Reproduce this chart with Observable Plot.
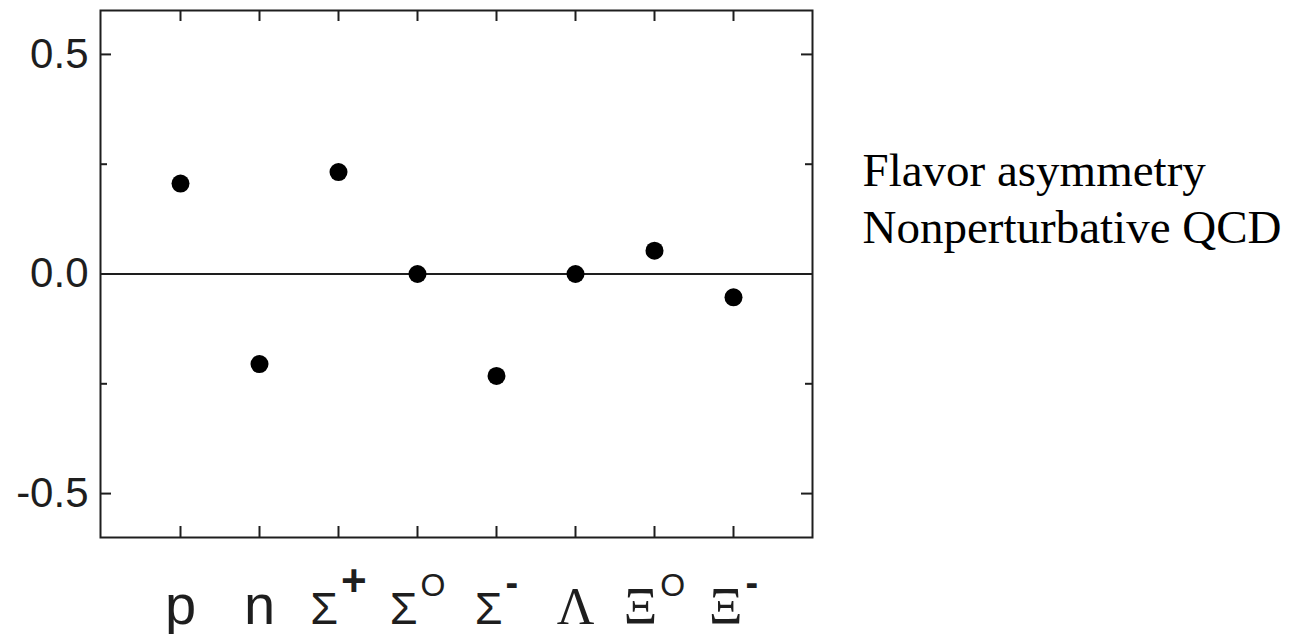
<!DOCTYPE html>
<html><head><meta charset="utf-8">
<script src="https://cdn.jsdelivr.net/npm/d3@7"></script>
<script src="https://cdn.jsdelivr.net/npm/@observablehq/plot@0.6"></script>
<style>body{margin:0;background:#fff}</style>
</head><body><div id="chart"></div>
<script>
// ---- data ----
const particles = ["p","n","Σ+","Σ0","Σ-","Λ","Ξ0","Ξ-"];
const baseLabels = ["p","n","Σ","Σ","Σ","Λ","Ξ","Ξ"];
const supLabels = ["","","+","O","-","","O","-"];
const asymmetry = [0.206,-0.205,0.232,0,-0.232,0,0.053,-0.053];
const yMajorTicks = [-0.5,0,0.5];
const yMinorTicks = [-0.25,0.25];
const annotation = ["Flavor asymmetry","Nonperturbative QCD"];

const data = particles.map((k,i)=>({k, v: asymmetry[i]}));
const labelText = particles.map((k,i)=>baseLabels[i]+supLabels[i]);

// ---- layout ----
const W=1302,H=634, mL=100, mR=490, mT=10, mB=97;
const iw = W-mL-mR, ih = H-mT-mB;
const major=11, minor=7;
const ink="#1e1e1e";
const sans="Liberation Sans, Arial, sans-serif";
const serif="Liberation Serif, Times New Roman, serif";

const plot = Plot.plot({
  width:W, height:H, marginLeft:mL, marginRight:mR, marginTop:mT, marginBottom:mB,
  x:{type:"point", domain: particles, padding:1, axis:null},
  y:{domain:[-0.6,0.6], axis:null},
  style:{background:"#fff", fontFamily:sans, color:ink},
  marks:[
    Plot.ruleY([0], {stroke:ink, strokeWidth:2}),
    Plot.tickY(yMajorTicks, {y:d=>d, insetRight: iw-major, stroke:ink, strokeWidth:2}),
    Plot.tickY(yMajorTicks, {y:d=>d, insetLeft: iw-major, stroke:ink, strokeWidth:2}),
    Plot.tickY(yMinorTicks, {y:d=>d, insetRight: iw-minor, stroke:ink, strokeWidth:2}),
    Plot.tickY(yMinorTicks, {y:d=>d, insetLeft: iw-minor, stroke:ink, strokeWidth:2}),
    Plot.tickX(particles, {x:d=>d, insetBottom: ih-major, stroke:ink, strokeWidth:2}),
    Plot.tickX(particles, {x:d=>d, insetTop: ih-major, stroke:ink, strokeWidth:2}),
    Plot.frame({stroke:ink, strokeWidth:2}),
    Plot.dot(data, {x:"k", y:"v", r:9, fill:"#000", stroke:"none"}),
    Plot.axisY(yMajorTicks, {tickSize:0, tickPadding:12, tickFormat:d=>d.toFixed(1), fontSize:42, fill:ink, label:null}),
    Plot.text(particles, {x:d=>d, frameAnchor:"bottom", lineAnchor:"bottom", dy:86,
      text:(d,i)=>labelText[i], fontSize:56, fill:ink, textAnchor:"middle"}),
    Plot.text([annotation.join("\n")], {frameAnchor:"top-right", textAnchor:"start", lineAnchor:"bottom",
      dx:50, dy:232, fontSize:47, lineHeight:1.213, fontFamily:serif, fill:"#000"})
  ]
});

// superscripts as tspans
d3.select(plot).selectAll("text").each(function(){
  const i = labelText.indexOf(this.textContent);
  if (i < 0) return;
  const base = baseLabels[i], sup = supLabels[i];
  const t = d3.select(this);
  t.text(null);
  const b = t.append("tspan").text(base);
  if (base === "Σ") b.attr("font-size", 45).attr("font-family", sans);
  else if (base === "Λ" || base === "Ξ") b.attr("font-size", 52).attr("font-family", serif);
  else b.attr("font-size", 56).attr("font-family", sans);
  if (sup) {
    t.append("tspan").text(sup).attr("font-size", sup === "+" ? 44 : sup === "-" ? 38 : 32)
      .attr("font-family", sans).attr("font-weight", sup === "O" ? "normal" : "bold")
      .attr("dx", 3).attr("dy", -28);
  }
});

document.getElementById("chart").appendChild(plot);
</script>
</body></html>
